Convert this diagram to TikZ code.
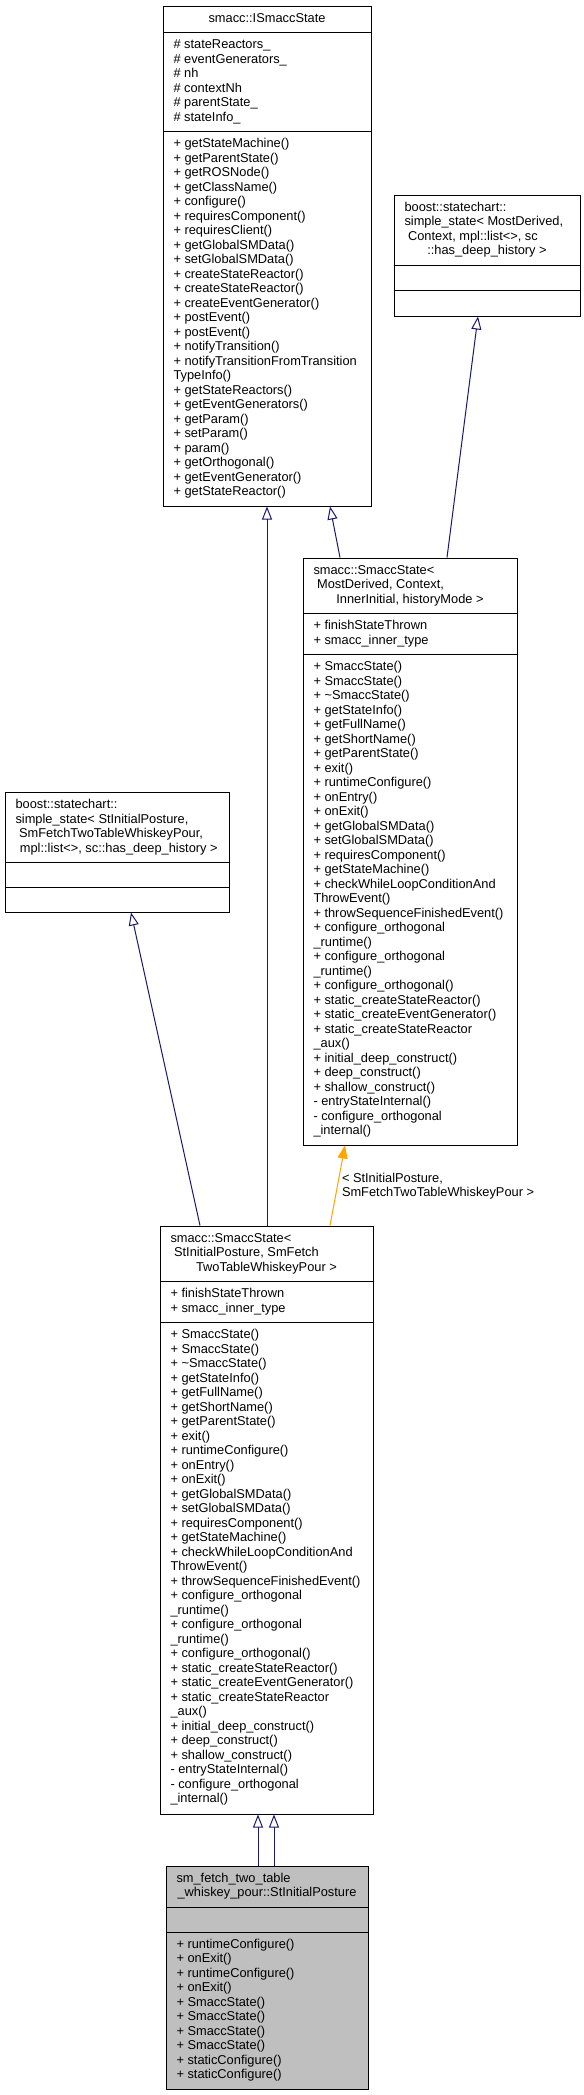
\documentclass[tikz,border=0pt]{standalone}
\usepackage{fontspec}
\setmainfont{Liberation Sans}
\usetikzlibrary{arrows.meta,fit}
\definecolor{edgeblue}{HTML}{191970}
\definecolor{edgeorange}{HTML}{FFA500}
\definecolor{focusgray}{HTML}{BFBFBF}
\newcommand\fs{\rule{0pt}{7.5pt}}
\newcommand\smaccmethods{\fs+ SmaccState()\\+ SmaccState()\\+ \textasciitilde SmaccState()\\+ getStateInfo()\\+ getFullName()\\+ getShortName()\\+ getParentState()\\+ exit()\\+ runtimeConfigure()\\+ onEntry()\\+ onExit()\\+ getGlobalSMData()\\+ setGlobalSMData()\\+ requiresComponent()\\+ getStateMachine()\\+ checkWhileLoopConditionAnd\\ThrowEvent()\\+ throwSequenceFinishedEvent()\\+ configure\_orthogonal\\\_runtime()\\+ configure\_orthogonal\\\_runtime()\\+ configure\_orthogonal()\\+ static\_createStateReactor()\\+ static\_createEventGenerator()\\+ static\_createStateReactor\\\_aux()\\+ initial\_deep\_construct()\\+ deep\_construct()\\+ shallow\_construct()\\- entryStateInternal()\\- configure\_orthogonal\\\_internal()}
\tikzset{
  classbox/.style={draw=black, line width=0.75pt, fill=white, inner sep=0pt},
  txt/.style={inner sep=0pt, outer sep=0pt, align=left, anchor=north west, font=\fontsize{9.62}{10.875}\selectfont},
  ctxt/.style={inner sep=0pt, outer sep=0pt, anchor=base, font=\fontsize{9.62}{10.875}\selectfont},
  sepline/.style={draw=black, line width=0.75pt},
  inherit/.style={draw=edgeblue, line width=0.75pt, -{Triangle[open, length=9.75pt, width=7.5pt]}},
  tmpl/.style={draw=edgeorange, line width=0.75pt, -{Triangle[length=9.75pt, width=7.5pt]}}
}
\begin{document}
\begin{tikzpicture}[x=0.75pt,y=-0.75pt]
\fill[white] (0,0) rectangle (584,2095);
\useasboundingbox (0,0) rectangle (584,2095);

% A: smacc::ISmaccState
\node[classbox, fit={(163,6) (371,506)}] (A) {};
\draw[sepline] (163,32.5) -- (371,32.5);
\draw[sepline] (163,131.5) -- (371,131.5);
\node[ctxt] (Ah) at (267,22) {smacc::ISmaccState};
\node[txt] (Aa) at (173.5,38.5) {\fs\# stateReactors\_\\\# eventGenerators\_\\\# nh\\\# contextNh\\\# parentState\_\\\# stateInfo\_};
\node[txt] (Am) at (173.5,137.5) {\fs+ getStateMachine()\\+ getParentState()\\+ getROSNode()\\+ getClassName()\\+ configure()\\+ requiresComponent()\\+ requiresClient()\\+ getGlobalSMData()\\+ setGlobalSMData()\\+ createStateReactor()\\+ createStateReactor()\\+ createEventGenerator()\\+ postEvent()\\+ postEvent()\\+ notifyTransition()\\+ notifyTransitionFromTransition\\TypeInfo()\\+ getStateReactors()\\+ getEventGenerators()\\+ getParam()\\+ setParam()\\+ param()\\+ getOrthogonal()\\+ getEventGenerator()\\+ getStateReactor()};

% B: boost simple_state MostDerived
\node[classbox, fit={(394,195) (580,316)}] (B) {};
\draw[sepline] (394,265) -- (580,265);
\draw[sepline] (394,290) -- (580,290);
\node[txt] (Bh) at (404.5,201) {\fs boost::statechart::\\simple\_state< MostDerived,\\\ Context, mpl::list<>, sc};
\node[ctxt] (Bh2) at (487,254.5) {::has\_deep\_history >};

% C: SmaccState MostDerived
\node[classbox, fit={(303,558) (517,1145)}] (C) {};
\draw[sepline] (303,613.5) -- (517,613.5);
\draw[sepline] (303,654.5) -- (517,654.5);
\node[txt] (Ch) at (313.5,564) {\fs smacc::SmaccState<\\\ MostDerived, Context,};
\node[ctxt] (Ch2) at (410,603) {InnerInitial, historyMode >};
\node[txt] (Ca) at (313.5,619.5) {\fs+ finishStateThrown\\+ smacc\_inner\_type};
\node[txt] (Cm) at (313.5,660.5) {\smaccmethods};

% D: boost simple_state StInitialPosture
\node[classbox, fit={(5,792.5) (229,912)}] (D) {};
\draw[sepline] (5,862) -- (229,862);
\draw[sepline] (5,887) -- (229,887);
\node[txt] (Dh) at (15.5,798.5) {\fs boost::statechart::\\simple\_state< StInitialPosture,\\\ SmFetchTwoTableWhiskeyPour,};
\node[ctxt] (Dh2) at (117,852) {\ mpl::list<>, sc::has\_deep\_history >};

% E: SmaccState StInitialPosture
\node[classbox, fit={(160,1226) (373,1814)}] (E) {};
\draw[sepline] (160,1281.5) -- (373,1281.5);
\draw[sepline] (160,1322.5) -- (373,1322.5);
\node[txt] (Eh) at (170.5,1232) {\fs smacc::SmaccState<\\\ StInitialPosture, SmFetch};
\node[ctxt] (Eh2) at (266.5,1271) {TwoTableWhiskeyPour >};
\node[txt] (Ea) at (170.5,1287.5) {\fs+ finishStateThrown\\+ smacc\_inner\_type};
\node[txt] (Em) at (170.5,1328.5) {\smaccmethods};

% F: focus class
\node[classbox, fill=focusgray, fit={(166,1866) (368,2089)}] (F) {};
\draw[sepline] (166,1907) -- (368,1907);
\draw[sepline] (166,1932) -- (368,1932);
\node[txt] (Fh) at (176.5,1872) {\fs sm\_fetch\_two\_table};
\node[ctxt] (Fh2) at (267,1896.5) {\_whiskey\_pour::StInitialPosture};
\node[txt] (Fm) at (176.5,1938) {\fs+ runtimeConfigure()\\+ onExit()\\+ runtimeConfigure()\\+ onExit()\\+ SmaccState()\\+ SmaccState()\\+ SmaccState()\\+ SmaccState()\\+ staticConfigure()\\+ staticConfigure()};

% connectors
\draw[inherit] (E.north -| 267,0) -- (A.south -| 267,0);
\draw[inherit] (C.north -| 340,0) -- (A.south -| 330,0);
\draw[inherit] (C.north -| 447,0) -- (B.south -| 478,0);
\draw[inherit] (E.north -| 200,0) -- (D.south -| 131,0);
\draw[tmpl] (E.north -| 330,0) -- (C.south -| 345,0);
\node[txt] (lbl) at (342,1172) {\fs< StInitialPosture,\\SmFetchTwoTableWhiskeyPour >};
\draw[inherit] (F.north -| 258,0) -- (E.south -| 258,0);
\draw[inherit] (F.north -| 274,0) -- (E.south -| 274,0);
\end{tikzpicture}
\end{document}
